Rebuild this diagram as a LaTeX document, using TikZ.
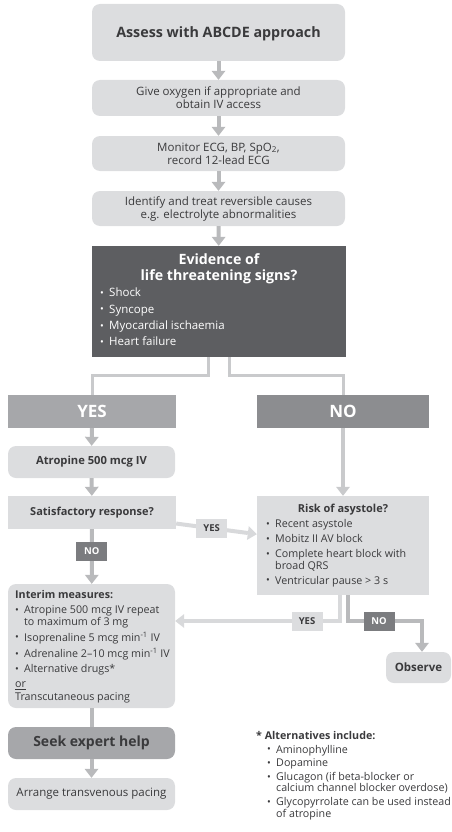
\documentclass[tikz,border=0pt]{standalone}
\usepackage{fontspec}
\setmainfont{Open Sans}
\usetikzlibrary{arrows.meta}

\definecolor{boxgray}{RGB}{220,221,223}
\definecolor{darkbox}{RGB}{93,94,97}
\definecolor{yesgray}{RGB}{166,167,170}
\definecolor{nogray}{RGB}{140,141,144}
\definecolor{labdark}{RGB}{123,124,127}
\definecolor{linegray}{RGB}{201,202,204}
\definecolor{paleline}{RGB}{216,217,219}
\definecolor{arrowgray}{RGB}{185,186,188}
\definecolor{txt}{RGB}{58,58,60}

\newcommand{\bul}{\makebox[9pt][l]{\raisebox{0.3pt}{\normalsize\textbullet}}}
\newcommand{\hang}{\hspace*{9pt}}

\begin{document}
\begin{tikzpicture}[x=1pt,y=-1pt,
  every node/.style={text=txt, inner sep=0pt},
  roundbox/.style={fill=boxgray, rounded corners=8pt},
  flatbox/.style={fill=boxgray},
  body/.style={font=\fontsize{11.5}{13}\selectfont, align=center},
  list/.style={font=\fontsize{10.7}{11.7}\selectfont, align=left, anchor=north west},
  tag/.style={minimum width=31pt, minimum height=19pt, font=\fontsize{9.5}{10}\selectfont\bfseries},
  arr/.style={draw=arrowgray, line width=4pt, -{Triangle[width=14pt,length=9pt,line width=0pt]}},
  link/.style={draw=linegray, line width=3pt},
]
  \useasboundingbox (0,0) rectangle (452,832);

  % main column
  \node[roundbox, minimum width=253pt, minimum height=57pt, text depth=0pt] (assess) at (218.5,32.5)
    {\fontsize{14.3}{16}\selectfont\bfseries Assess with ABCDE approach};
  \node[roundbox, minimum width=253pt, minimum height=36pt, body] (oxygen) at (218.5,98)
    {Give oxygen if appropriate and\\obtain IV access};
  \node[roundbox, minimum width=253pt, minimum height=35pt, body] (monitor) at (218.5,153.5)
    {Monitor ECG, BP, SpO\textsubscript{2},\\record 12-lead ECG};
  \node[roundbox, minimum width=253pt, minimum height=35pt, body] (identify) at (218.5,208.5)
    {Identify and treat reversible causes\\e.g. electrolyte abnormalities};

  \node[fill=darkbox, minimum width=254pt, minimum height=111pt] (signs) at (219,301.5) {};
  \node[text=white, align=center, font=\fontsize{14.2}{16}\selectfont\bfseries] (signstitle) at (219,269)
    {Evidence of\\life threatening signs?};
  \node[list, text=white, font=\fontsize{11.5}{16.3}\selectfont] (signslist) at (100,288)
    {\bul Shock\\\bul Syncope\\\bul Myocardial ischaemia\\\bul Heart failure};

  \draw[arr] (assess) -- (oxygen);
  \draw[arr] (oxygen) -- (monitor);
  \draw[arr] (monitor) -- (identify);
  \draw[arr] (identify) -- (signs);

  % yes / no split
  \node[fill=yesgray, minimum width=168pt, minimum height=33pt, text=white,
    font=\fontsize{17}{18}\selectfont\bfseries] (yes) at (92,411.5) {YES};
  \node[fill=nogray, minimum width=172pt, minimum height=33pt, text=white,
    font=\fontsize{17}{18}\selectfont\bfseries] (no) at (343,411.5) {NO};
  \draw[link] ([xshift=-11pt]signs.south) -- ++(0,18) -| (yes.north);
  \draw[link] ([xshift=10pt]signs.south) -- ++(0,18) -| (no.north);

  % left branch
  \node[roundbox, minimum width=167pt, minimum height=32pt,
    font=\fontsize{11.2}{12}\selectfont\bfseries] (atropine) at (91.5,462) {Atropine 500 mcg IV};
  \node[flatbox, minimum width=168pt, minimum height=33pt,
    font=\fontsize{11}{12}\selectfont\bfseries] (satis) at (92,512.5) {Satisfactory response?};
  \draw[arr] (yes) -- (atropine);
  \draw[arr] (atropine) -- (satis);

  \node[roundbox, minimum width=167pt, minimum height=124pt] (interim) at (91.5,646) {};
  \node[list] (interimlist) at (15,590)
    {\textbf{Interim measures:}\\[3.3pt]
     \bul Atropine 500 mcg IV repeat\\\hang to maximum of 3 mg\\[3.3pt]
     \bul Isoprenaline 5 mcg min\textsuperscript{-1} IV\\[3.3pt]
     \bul Adrenaline 2--10 mcg min\textsuperscript{-1} IV\\[3.3pt]
     \bul Alternative drugs*\\[3.3pt]
     \underline{or}\\[1.5pt]
     Transcutaneous pacing};
  \draw[arr] (satis) -- node[tag, fill=labdark, text=white, pos=0.41] (nolab) {NO} (interim);

  \node[fill=yesgray, rounded corners=8pt, minimum width=167pt, minimum height=32pt,
    font=\fontsize{14}{18}\selectfont\bfseries] (seek) at (91.5,743) {Seek expert help};
  \node[roundbox, minimum width=167pt, minimum height=32pt, body] (arrange) at (91.5,794)
    {Arrange transvenous pacing};
  \draw[draw=arrowgray, line width=4pt] (interim) -- (seek);
  \draw[arr] (seek) -- (arrange);

  % right branch
  \node[flatbox, minimum width=172pt, minimum height=99pt] (risk) at (343,545.5) {};
  \node[font=\fontsize{11}{13}\selectfont\bfseries] (risktitle) at (343,510) {Risk of asystole?};
  \node[list] (risklist) at (266,519)
    {\bul Recent asystole\\[3.3pt]
     \bul Mobitz II AV block\\[3.3pt]
     \bul Complete heart block with\\\hang broad QRS\\[3.3pt]
     \bul Ventricular pause > 3 s};
  \draw[arr, draw=linegray] (no) -- (risk);
  \draw[arr, draw=paleline] (satis) -- node[tag, fill=boxgray, pos=0.44] (yeslab) {YES} (risk);

  \node[roundbox, minimum width=65pt, minimum height=31pt,
    font=\fontsize{11.5}{12}\selectfont\bfseries] (observe) at (418.5,667.5) {Observe};
  \coordinate (yesturn) at (340,621);
  \coordinate (noturn) at (348,621);
  \draw[arr, draw=paleline] (risk.south -| yesturn) -- (yesturn)
    -- node[tag, fill=boxgray, pos=0.2] (yeslabb) {YES} (interim.east |- yesturn);
  \draw[arr] (risk.south -| noturn) -- (noturn)
    -- node[tag, fill=labdark, text=white, pos=0.42] (nolabb) {NO} (422,621) -- (observe.north -| 422,0);

  % footnote
  \node[list, font=\fontsize{10.7}{11.5}\selectfont] (alts) at (256,731)
    {\textbf{* Alternatives include:}\\[2.2pt]
     \hspace*{11pt}\bul Aminophylline\\[2.2pt]
     \hspace*{11pt}\bul Dopamine\\[2.2pt]
     \hspace*{11pt}\bul Glucagon (if beta-blocker or\\\hspace*{11pt}\hang calcium channel blocker overdose)\\[2.2pt]
     \hspace*{11pt}\bul Glycopyrrolate can be used instead\\\hspace*{11pt}\hang of atropine};
\end{tikzpicture}
\end{document}
